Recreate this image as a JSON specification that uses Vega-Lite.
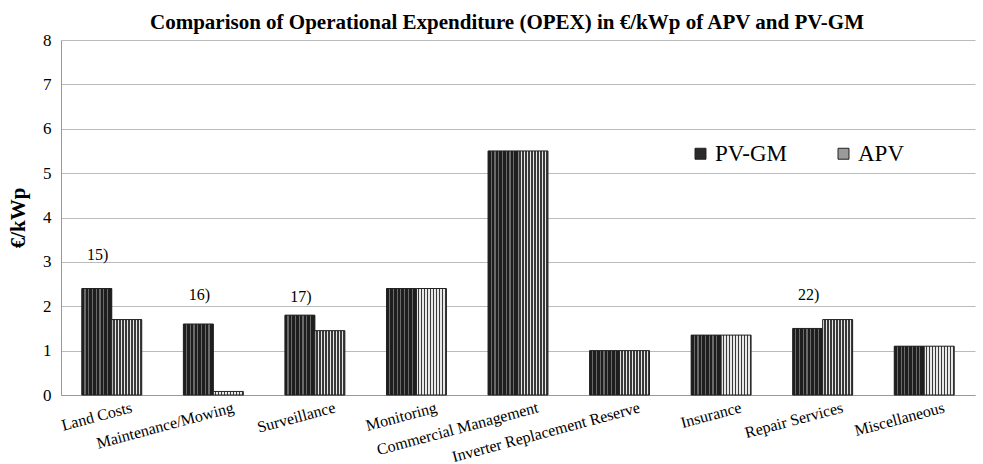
{
  "$schema": "https://vega.github.io/schema/vega-lite/v6.json",
  "width": 914,
  "height": 355,
  "autosize": {"type": "none"},
  "padding": {"left": 61, "top": 40, "right": 8, "bottom": 69},
  "background": "white",
  "title": {
    "text": "Comparison of Operational Expenditure (OPEX) in €/kWp of APV and PV-GM",
    "font": "Liberation Serif",
    "fontSize": 21,
    "fontWeight": "bold",
    "color": "black",
    "anchor": "middle",
    "offset": -2,
    "dx": -11
  },
  "config": {
    "view": {"stroke": null},
    "font": "Liberation Serif",
    "axis": {"labelFont": "Liberation Serif", "titleFont": "Liberation Serif"},
    "legend": {"labelFont": "Liberation Serif"},
    "text": {"font": "Liberation Serif"}
  },
  "data": {
    "values": [
      {"category": "Land Costs", "series": "PV-GM", "value": 2.4},
      {"category": "Land Costs", "series": "APV", "value": 1.7},
      {"category": "Maintenance/Mowing", "series": "PV-GM", "value": 1.6},
      {"category": "Maintenance/Mowing", "series": "APV", "value": 0.08},
      {"category": "Surveillance", "series": "PV-GM", "value": 1.8},
      {"category": "Surveillance", "series": "APV", "value": 1.45},
      {"category": "Monitoring", "series": "PV-GM", "value": 2.4},
      {"category": "Monitoring", "series": "APV", "value": 2.4},
      {"category": "Commercial Management", "series": "PV-GM", "value": 5.5},
      {"category": "Commercial Management", "series": "APV", "value": 5.5},
      {"category": "Inverter Replacement Reserve", "series": "PV-GM", "value": 1.0},
      {"category": "Inverter Replacement Reserve", "series": "APV", "value": 1.0},
      {"category": "Insurance", "series": "PV-GM", "value": 1.35},
      {"category": "Insurance", "series": "APV", "value": 1.35},
      {"category": "Repair Services", "series": "PV-GM", "value": 1.5},
      {"category": "Repair Services", "series": "APV", "value": 1.7},
      {"category": "Miscellaneous", "series": "PV-GM", "value": 1.1},
      {"category": "Miscellaneous", "series": "APV", "value": 1.1}
    ]
  },
  "layer": [
    {
      "mark": {"type": "bar"},
      "encoding": {
        "x": {
          "field": "category",
          "type": "nominal",
          "scale": {
            "domain": ["Land Costs", "Maintenance/Mowing", "Surveillance", "Monitoring", "Commercial Management", "Inverter Replacement Reserve", "Insurance", "Repair Services", "Miscellaneous"],
            "paddingInner": 0.41,
            "paddingOuter": 0.205
          },
          "axis": {
            "title": null,
            "labelAngle": -15,
            "labelAlign": "right",
            "labelBaseline": "top",
            "labelOffset": 18,
            "labelLimit": 0,
            "ticks": false,
            "domainColor": "#999999",
            "labelFontSize": 16,
            "labelColor": "black",
            "labelPadding": 4,
            "labelFont": "Liberation Serif"
          }
        },
        "xOffset": {"field": "series", "type": "nominal", "scale": {"domain": ["PV-GM", "APV"], "paddingInner": 0, "paddingOuter": 0}},
        "y": {
          "field": "value",
          "type": "quantitative",
          "scale": {"domain": [0, 8]},
          "axis": {
            "title": "€/kWp",
            "values": [0, 1, 2, 3, 4, 5, 6, 7, 8],
            "ticks": false,
            "domainColor": "#999999",
            "gridColor": "#bbbbbb",
            "labelFontSize": 17,
            "labelColor": "black",
            "labelPadding": 10,
            "titleFontSize": 21,
            "titleFontWeight": "bold",
            "titleColor": "black",
            "titlePadding": 14,
            "titleFont": "Liberation Serif",
            "labelFont": "Liberation Serif"
          }
        },
        "color": {
          "field": "series",
          "type": "nominal",
          "scale": {"domain": ["PV-GM", "APV"], "range": ["#2a2a2a", "#9a9a9a"]},
          "legend": {
            "title": null,
            "orient": "none",
            "legendX": 628,
            "legendY": 102,
            "direction": "horizontal",
            "symbolType": "square",
            "symbolSize": 120,
            "symbolStrokeColor": "#222222",
            "symbolStrokeWidth": 1,
            "labelFontSize": 23,
            "labelFont": "Liberation Serif",
            "labelColor": "black",
            "columnPadding": 44,
            "labelOffset": 3
          }
        }
      }
    },
    {
      "mark": {"type": "bar", "stroke": "#222222", "strokeWidth": 1},
      "encoding": {
        "x": {"field": "category", "type": "nominal"},
        "xOffset": {"field": "series", "type": "nominal"},
        "y": {"field": "value", "type": "quantitative"},
        "fill": {
          "condition": {
            "test": "datum.series === 'PV-GM'",
            "value": {
              "gradient": "linear", "x1": 0, "x2": 1, "y1": 0, "y2": 0,
              "stops": [
                {"offset": 0, "color": "#1e1e1e"}, {"offset": 0.085, "color": "#1e1e1e"}, {"offset": 0.085, "color": "#6a6a6a"}, {"offset": 0.125, "color": "#6a6a6a"},
                {"offset": 0.125, "color": "#1e1e1e"}, {"offset": 0.21, "color": "#1e1e1e"}, {"offset": 0.21, "color": "#6a6a6a"}, {"offset": 0.25, "color": "#6a6a6a"},
                {"offset": 0.25, "color": "#1e1e1e"}, {"offset": 0.335, "color": "#1e1e1e"}, {"offset": 0.335, "color": "#6a6a6a"}, {"offset": 0.375, "color": "#6a6a6a"},
                {"offset": 0.375, "color": "#1e1e1e"}, {"offset": 0.46, "color": "#1e1e1e"}, {"offset": 0.46, "color": "#6a6a6a"}, {"offset": 0.5, "color": "#6a6a6a"},
                {"offset": 0.5, "color": "#1e1e1e"}, {"offset": 0.585, "color": "#1e1e1e"}, {"offset": 0.585, "color": "#6a6a6a"}, {"offset": 0.625, "color": "#6a6a6a"},
                {"offset": 0.625, "color": "#1e1e1e"}, {"offset": 0.71, "color": "#1e1e1e"}, {"offset": 0.71, "color": "#6a6a6a"}, {"offset": 0.75, "color": "#6a6a6a"},
                {"offset": 0.75, "color": "#1e1e1e"}, {"offset": 0.835, "color": "#1e1e1e"}, {"offset": 0.835, "color": "#6a6a6a"}, {"offset": 0.875, "color": "#6a6a6a"},
                {"offset": 0.875, "color": "#1e1e1e"}, {"offset": 1, "color": "#1e1e1e"}
              ]
            }
          },
          "value": {
            "gradient": "linear", "x1": 0, "x2": 1, "y1": 0, "y2": 0,
            "stops": [
              {"offset": 0, "color": "#e8e8e8"}, {"offset": 0.05, "color": "#e8e8e8"}, {"offset": 0.05, "color": "#3a3a3a"}, {"offset": 0.1, "color": "#3a3a3a"},
              {"offset": 0.1, "color": "#e8e8e8"}, {"offset": 0.15, "color": "#e8e8e8"}, {"offset": 0.15, "color": "#3a3a3a"}, {"offset": 0.2, "color": "#3a3a3a"},
              {"offset": 0.2, "color": "#e8e8e8"}, {"offset": 0.25, "color": "#e8e8e8"}, {"offset": 0.25, "color": "#3a3a3a"}, {"offset": 0.3, "color": "#3a3a3a"},
              {"offset": 0.3, "color": "#e8e8e8"}, {"offset": 0.35, "color": "#e8e8e8"}, {"offset": 0.35, "color": "#3a3a3a"}, {"offset": 0.4, "color": "#3a3a3a"},
              {"offset": 0.4, "color": "#e8e8e8"}, {"offset": 0.45, "color": "#e8e8e8"}, {"offset": 0.45, "color": "#3a3a3a"}, {"offset": 0.5, "color": "#3a3a3a"},
              {"offset": 0.5, "color": "#e8e8e8"}, {"offset": 0.55, "color": "#e8e8e8"}, {"offset": 0.55, "color": "#3a3a3a"}, {"offset": 0.6, "color": "#3a3a3a"},
              {"offset": 0.6, "color": "#e8e8e8"}, {"offset": 0.65, "color": "#e8e8e8"}, {"offset": 0.65, "color": "#3a3a3a"}, {"offset": 0.7, "color": "#3a3a3a"},
              {"offset": 0.7, "color": "#e8e8e8"}, {"offset": 0.75, "color": "#e8e8e8"}, {"offset": 0.75, "color": "#3a3a3a"}, {"offset": 0.8, "color": "#3a3a3a"},
              {"offset": 0.8, "color": "#e8e8e8"}, {"offset": 0.85, "color": "#e8e8e8"}, {"offset": 0.85, "color": "#3a3a3a"}, {"offset": 0.9, "color": "#3a3a3a"},
              {"offset": 0.9, "color": "#e8e8e8"}, {"offset": 0.95, "color": "#e8e8e8"}, {"offset": 0.95, "color": "#3a3a3a"}, {"offset": 1, "color": "#3a3a3a"}
            ]
          }
        }
      }
    },
    {
      "data": {
        "values": [
          {"category": "Land Costs", "note": "15)", "pos": 3.15},
          {"category": "Maintenance/Mowing", "note": "16)", "pos": 2.25},
          {"category": "Surveillance", "note": "17)", "pos": 2.2},
          {"category": "Repair Services", "note": "22)", "pos": 2.25}
        ]
      },
      "mark": {"type": "text", "font": "Liberation Serif", "fontSize": 16, "color": "black", "dx": -14, "baseline": "middle"},
      "encoding": {
        "x": {"field": "category", "type": "nominal"},
        "y": {"field": "pos", "type": "quantitative"},
        "text": {"field": "note"}
      }
    }
  ]
}
